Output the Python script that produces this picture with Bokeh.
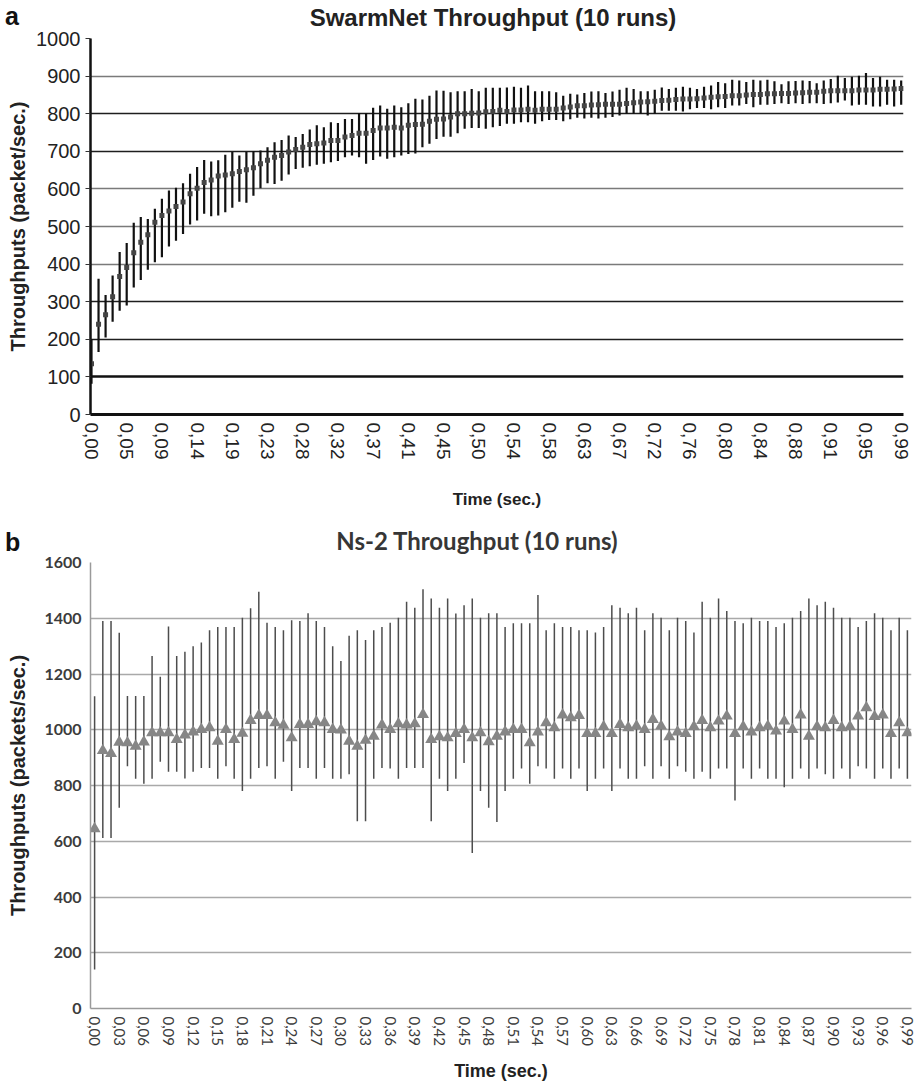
from bokeh.plotting import figure
from bokeh.models import ColumnDataSource, Range1d, FixedTicker, Grid, Div
from bokeh.layouts import column
from bokeh.embed import file_html
from bokeh.resources import INLINE

# ---------------- Panel a: SwarmNet ----------------
swarm_title = "SwarmNet Throughput (10 runs)"
swarm_tick_labels = ["0,00", "0,05", "0,09", "0,14", "0,19", "0,23", "0,28", "0,32",
                     "0,37", "0,41", "0,45", "0,50", "0,54", "0,58", "0,63", "0,67",
                     "0,72", "0,76", "0,80", "0,84", "0,88", "0,91", "0,95", "0,99"]

swarm_mean = [135, 240, 265, 313, 367, 391, 430, 458, 478, 511,
              529, 541, 553, 565, 587, 602, 617, 624, 634, 637,
              640, 646, 651, 656, 667, 676, 684, 689, 698, 705,
              711, 718, 720, 722, 729, 729, 738, 742, 748, 748,
              755, 762, 762, 764, 762, 769, 771, 772, 780, 785,
              786, 791, 800, 800, 801, 802, 805, 806, 809, 806,
              810, 810, 812, 809, 812, 812, 812, 815, 818, 821,
              821, 823, 824, 825, 825, 825, 827, 829, 831, 832,
              833, 835, 836, 838, 839, 839, 840, 842, 844, 845,
              846, 848, 848, 850, 851, 851, 853, 853, 854, 854,
              855, 856, 857, 857, 860, 861, 861, 861, 861, 863,
              863, 863, 865, 865, 866, 867]
swarm_low = [82, 166, 205, 247, 276, 290, 338, 358, 385, 405,
             418, 447, 462, 480, 505, 516, 534, 527, 529, 538,
             550, 566, 563, 582, 602, 615, 613, 622, 638, 653,
             656, 660, 664, 667, 671, 674, 684, 689, 684, 667,
             677, 686, 680, 684, 689, 693, 694, 711, 720, 733,
             739, 739, 748, 760, 762, 762, 760, 764, 767, 773,
             773, 777, 777, 773, 780, 783, 783, 780, 785, 789,
             787, 789, 787, 789, 791, 795, 800, 800, 800, 795,
             800, 808, 808, 808, 806, 812, 815, 815, 812, 817,
             815, 822, 822, 826, 817, 824, 824, 826, 828, 826,
             828, 826, 828, 828, 826, 828, 830, 835, 822, 824,
             824, 819, 819, 824, 819, 824]
swarm_high = [200, 361, 318, 370, 432, 456, 510, 525, 520, 547,
              574, 596, 603, 615, 640, 658, 677, 673, 676, 691,
              698, 689, 698, 700, 702, 711, 724, 730, 742, 738,
              746, 758, 769, 764, 777, 775, 786, 786, 802, 802,
              816, 822, 813, 822, 817, 828, 840, 838, 848, 862,
              861, 857, 860, 860, 866, 860, 869, 869, 869, 870,
              872, 869, 875, 860, 860, 860, 857, 848, 853, 851,
              855, 859, 860, 855, 859, 864, 869, 866, 860, 860,
              864, 870, 866, 869, 872, 869, 866, 872, 875, 884,
              881, 890, 888, 884, 890, 888, 890, 886, 878, 886,
              887, 888, 887, 881, 888, 892, 901, 895, 898, 901,
              908, 895, 898, 890, 890, 888]

# ---------------- Panel b: Ns-2 ----------------
ns2_title = "Ns-2 Throughput (10 runs)"
ns2_tick_labels = ["0,00", "0,03", "0,06", "0,09", "0,12", "0,15", "0,18", "0,21", "0,24",
                   "0,27", "0,30", "0,33", "0,36", "0,39", "0,42", "0,45", "0,48", "0,51",
                   "0,54", "0,57", "0,60", "0,63", "0,66", "0,69", "0,72", "0,75", "0,78",
                   "0,81", "0,84", "0,87", "0,90", "0,93", "0,96", "0,99"]

ns2_mean = [645, 925, 915, 955, 953, 941, 956, 989, 989, 989,
            965, 981, 992, 1001, 1007, 959, 1001, 965, 987, 1033,
            1051, 1051, 1025, 1016, 971, 1019, 1019, 1029, 1025, 1001,
            999, 959, 941, 962, 977, 1017, 1001, 1021, 1017, 1021,
            1055, 965, 975, 971, 986, 1001, 971, 989, 957, 977,
            992, 1001, 1001, 953, 992, 1025, 1007, 1053, 1043, 1051,
            986, 986, 1011, 986, 1019, 1007, 1013, 1001, 1037, 1013,
            975, 992, 986, 1011, 1033, 1007, 1031, 1049, 986, 1011,
            992, 1007, 1013, 995, 1031, 1001, 1053, 977, 1011, 1007,
            1033, 1007, 1011, 1049, 1079, 1047, 1053, 986, 1025, 989]
ns2_low = [140, 612, 612, 720, 869, 824, 806, 824, 885, 849,
           849, 825, 849, 863, 863, 824, 869, 824, 780, 824,
           863, 869, 824, 885, 780, 863, 863, 824, 863, 824,
           824, 840, 672, 672, 824, 863, 861, 824, 863, 863,
           863, 672, 824, 780, 824, 881, 558, 780, 720, 669,
           780, 824, 861, 806, 869, 861, 824, 861, 824, 861,
           780, 824, 861, 780, 861, 824, 824, 869, 824, 869,
           824, 869, 849, 824, 849, 824, 861, 861, 746, 861,
           824, 861, 824, 824, 794, 824, 861, 824, 861, 840,
           824, 861, 824, 869, 861, 824, 861, 824, 861, 824]
ns2_high = [1120, 1390, 1390, 1348, 1121, 1121, 1121, 1265, 1190, 1370,
            1265, 1280, 1300, 1313, 1357, 1369, 1369, 1369, 1402, 1436,
            1495, 1384, 1369, 1357, 1393, 1390, 1418, 1390, 1369, 1300,
            1247, 1337, 1357, 1322, 1357, 1369, 1384, 1402, 1459, 1438,
            1504, 1471, 1438, 1471, 1417, 1447, 1471, 1402, 1418, 1418,
            1369, 1382, 1382, 1382, 1483, 1357, 1382, 1369, 1369, 1357,
            1357, 1349, 1369, 1447, 1438, 1418, 1438, 1357, 1418, 1402,
            1357, 1402, 1390, 1349, 1459, 1402, 1471, 1426, 1390, 1382,
            1402, 1390, 1390, 1369, 1382, 1402, 1426, 1471, 1447, 1459,
            1438, 1402, 1402, 1369, 1390, 1418, 1402, 1357, 1402, 1357]

ARIAL = "Liberation Sans"
CAL = "Lato"


def header(tag, title, title_center, title_top, tag_top, title_font, title_color, height):
    html = (
        f'<div style="position:relative;width:924px;height:{height}px;margin:0;padding:0;'
        f'overflow:visible;">'
        f'<span style="position:absolute;left:5px;top:{tag_top}px;white-space:nowrap;'
        f"font:bold 25px/25px '{ARIAL}';color:#111111;\">{tag}</span>"
        f'<span style="position:absolute;left:{title_center}px;top:{title_top}px;'
        f'transform:translateX(-50%);white-space:nowrap;'
        f"font:bold 24px/24px '{title_font}';color:{title_color};\">{title}</span>"
        f'</div>'
    )
    return Div(text=html, width=924, height=height, margin=0,
               styles={"overflow": "visible", "z-index": "2"})


# ================= Figure a =================
sa = ColumnDataSource(dict(x=list(range(len(swarm_mean))), mean=swarm_mean,
                           lo=swarm_low, hi=swarm_high))
swarm_ticks = [5 * k for k in range(len(swarm_tick_labels))]

pa = figure(width=916, height=498, x_range=Range1d(-0.142, 115.33), y_range=Range1d(0, 1000),
            output_backend="svg", toolbar_location=None,
            min_border_left=90, min_border_right=13, min_border_top=11, min_border_bottom=111)
pa.outline_line_color = None
pa.border_fill_color = None
pa.background_fill_color = "white"
pa.xgrid.visible = False
pa.ygrid.ticker = FixedTicker(ticks=[400, 500, 600, 900])
pa.ygrid.grid_line_color = "#7a7a7a"
pa.ygrid.grid_line_width = 1.3
pa.add_layout(Grid(dimension=1, ticker=FixedTicker(ticks=[200, 300, 700, 800]),
                   grid_line_color="#1e1e1e", grid_line_width=1.3))
pa.add_layout(Grid(dimension=1, ticker=FixedTicker(ticks=[100, 1000]),
                   grid_line_color="#111111", grid_line_width=2.6))

pa.segment(x0="x", y0="lo", x1="x", y1="hi", source=sa, line_color="#111111", line_width=2.2)
pa.scatter("x", "mean", source=sa, marker="square", size=5, fill_color="#444444",
           line_color=None)

pa.yaxis.ticker = FixedTicker(ticks=list(range(0, 1001, 100)))
pa.yaxis.axis_line_width = 2.5
pa.yaxis.axis_line_color = "#111111"
pa.yaxis.major_tick_out = 5
pa.yaxis.major_tick_in = 0
pa.yaxis.major_tick_line_color = "#333333"
pa.yaxis.minor_tick_line_color = None
pa.yaxis.major_label_standoff = 5
pa.yaxis.major_label_text_font = ARIAL
pa.yaxis.major_label_text_font_size = "20px"
pa.yaxis.major_label_text_color = "#222222"
pa.yaxis.axis_label = "Throughputs (packet/sec.)"
pa.yaxis.axis_label_text_font = ARIAL
pa.yaxis.axis_label_text_font_size = "20px"
pa.yaxis.axis_label_text_font_style = "bold"
pa.yaxis.axis_label_text_color = "#222222"
pa.yaxis.axis_label_standoff = 4

pa.xaxis.ticker = FixedTicker(ticks=swarm_ticks)
pa.xaxis.major_label_overrides = {t: s for t, s in zip(swarm_ticks, swarm_tick_labels)}
pa.xaxis.major_label_orientation = "vertical"
pa.xaxis.axis_line_width = 3
pa.xaxis.axis_line_color = "#111111"
pa.xaxis.major_tick_out = 0
pa.xaxis.major_tick_in = 0
pa.xaxis.minor_tick_line_color = None
pa.xaxis.major_label_standoff = 8
pa.xaxis.major_label_text_font = ARIAL
pa.xaxis.major_label_text_font_size = "19px"
pa.xaxis.major_label_text_color = "#222222"
pa.xaxis.axis_label = "Time (sec.)"
pa.xaxis.axis_label_text_font = ARIAL
pa.xaxis.axis_label_text_font_size = "17px"
pa.xaxis.axis_label_text_font_style = "bold"
pa.xaxis.axis_label_text_color = "#222222"
pa.xaxis.axis_label_standoff = 28

# ================= Figure b =================
sb = ColumnDataSource(dict(x=list(range(len(ns2_mean))), mean=ns2_mean,
                           lo=ns2_low, hi=ns2_high))
ns2_ticks = [3 * k for k in range(len(ns2_tick_labels))]

pb = figure(width=924, height=532, x_range=Range1d(-0.5, 99.5), y_range=Range1d(0, 1600),
            output_backend="svg", toolbar_location=None,
            min_border_left=89, min_border_right=7, min_border_top=10, min_border_bottom=76)
pb.outline_line_color = None
pb.border_fill_color = None
pb.background_fill_color = "white"
pb.xgrid.visible = False
pb.ygrid.ticker = FixedTicker(ticks=list(range(200, 1601, 200)))
pb.ygrid.grid_line_color = "#a9a9a9"
pb.ygrid.grid_line_width = 1.3

pb.segment(x0="x", y0="lo", x1="x", y1="hi", source=sb, line_color="#4d4d4d", line_width=1.5)
pb.scatter("x", "mean", source=sb, marker="triangle", size=12, fill_color="#868686",
           line_color=None)

pb.yaxis.ticker = FixedTicker(ticks=list(range(0, 1601, 200)))
pb.yaxis.axis_line_width = 1.5
pb.yaxis.axis_line_color = "#9a9a9a"
pb.yaxis.major_tick_out = 0
pb.yaxis.major_tick_in = 0
pb.yaxis.minor_tick_line_color = None
pb.yaxis.major_label_standoff = 9
pb.yaxis.major_label_text_font = CAL
pb.yaxis.major_label_text_font_size = "16px"
pb.yaxis.major_label_text_font_style = "bold"
pb.yaxis.major_label_text_color = "#3c3c3c"
pb.yaxis.axis_label = "Throughputs (packets/sec.)"
pb.yaxis.axis_label_text_font = ARIAL
pb.yaxis.axis_label_text_font_size = "20px"
pb.yaxis.axis_label_text_font_style = "bold"
pb.yaxis.axis_label_text_color = "#222222"
pb.yaxis.axis_label_standoff = 12

pb.xaxis.ticker = FixedTicker(ticks=ns2_ticks)
pb.xaxis.major_label_overrides = {t: s for t, s in zip(ns2_ticks, ns2_tick_labels)}
pb.xaxis.major_label_orientation = "vertical"
pb.xaxis.axis_line_width = 1.5
pb.xaxis.axis_line_color = "#9a9a9a"
pb.xaxis.major_tick_out = 0
pb.xaxis.major_tick_in = 0
pb.xaxis.minor_tick_line_color = None
pb.xaxis.major_label_standoff = 8
pb.xaxis.major_label_text_font = CAL
pb.xaxis.major_label_text_font_size = "15px"
pb.xaxis.major_label_text_color = "#3c3c3c"
pb.xaxis.axis_label = "Time (sec.)"
pb.xaxis.axis_label_text_font = ARIAL
pb.xaxis.axis_label_text_font_size = "18px"
pb.xaxis.axis_label_text_font_style = "bold"
pb.xaxis.axis_label_text_color = "#222222"
pb.xaxis.axis_label_standoff = 12

head_a = header("a", swarm_title, 493, 6, 4, ARIAL, "#222222", 27)
head_b = header("b", ns2_title, 477, 4, 5, CAL, "#363636", 27)

layout = column(head_a, pa, head_b, pb, spacing=0)
open("out.html", "w").write(file_html(layout, INLINE))
